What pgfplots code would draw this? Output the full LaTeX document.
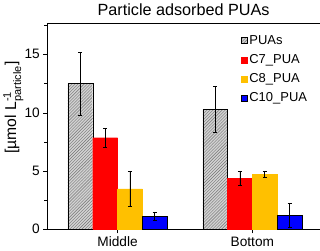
\documentclass[border=0pt]{standalone}
\usepackage{pgfplots}
\pgfplotsset{compat=1.18}
\usepackage{amsmath}
\usepackage{fontspec}
\setmainfont{Liberation Sans}
\usetikzlibrary{patterns}
\definecolor{cred}{RGB}{255,0,0}
\definecolor{cyel}{RGB}{255,192,0}
\definecolor{cblue}{RGB}{0,0,255}
\begin{document}
\begin{tikzpicture}
\begin{axis}[
  scale only axis,
  width=268bp, height=203bp,
  xmin=-0.52, xmax=1.5,
  ymin=0, ymax=17.7,
  ybar, bar width=0.184,
  xtick={0,1}, xticklabels={Middle,Bottom},
  ytick={0,5,10,15},
  minor ytick={2.5,7.5,12.5,17.5},
  tick align=outside,
  major tick length=4bp, minor tick length=3bp,
  x tick style={black}, y tick style={black},
  xtick pos=bottom, ytick pos=left,
  /pgf/number format/assume math mode=true,
  tick label style={font=\fontsize{13.5}{14}\selectfont},
  title={Particle adsorbed PUAs},
  title style={font=\fontsize{16}{18}\selectfont, yshift=-2bp},
  ylabel={[µmol L$^{\text{-1}}_{\text{particle}}$]},
  ylabel style={font=\fontsize{15.5}{16}\selectfont, at={(axis description cs:0,0.59)}, anchor=south, yshift=20bp},
  legend style={draw=none, fill=none, at={(0.965,0.955)}, anchor=north east,
    font=\fontsize{12.8}{14}\selectfont, row sep=4.5bp, inner sep=1pt},
  legend cell align=left,
  legend image code/.code={\draw[#1] (0bp,-3bp) rectangle (6bp,3bp);},
  error bars/y dir=both, error bars/y explicit,
  error bars/error bar style={black, line width=0.7pt},
  error bars/error mark options={black, rotate=90, mark size=2pt, line width=0.7pt},
]
\addplot[draw=black, fill=gray!35, postaction={pattern=north east lines, pattern color=gray!90!black}, bar shift=-0.276]
  coordinates {(0,12.5) +- (0,2.7) (1,10.3) +- (0,1.95)};
\addlegendentry{PUAs}
\addplot[draw=cred, fill=cred, bar shift=-0.092]
  coordinates {(0,7.85) +- (0,0.8) (1,4.37) +- (0,0.58)};
\addlegendentry{C7\_PUA}
\addplot[draw=cyel, fill=cyel, bar shift=0.092]
  coordinates {(0,3.45) +- (0,1.48) (1,4.7) +- (0,0.29)};
\addlegendentry{C8\_PUA}
\addplot[draw=black, fill=cblue, bar shift=0.276]
  coordinates {(0,1.12) +- (0,0.32) (1,1.17) +- (0,1.03)};
\addlegendentry{C10\_PUA}
\end{axis}
\end{tikzpicture}
\end{document}
